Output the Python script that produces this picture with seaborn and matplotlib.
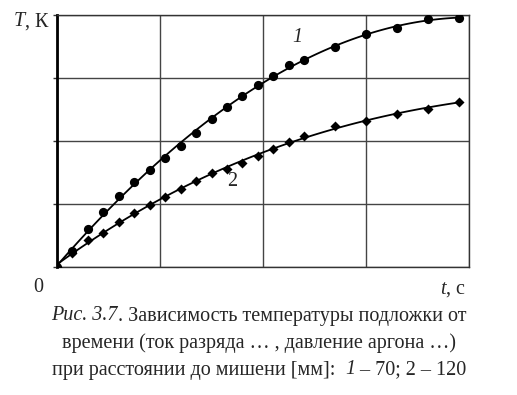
import numpy as np
import pandas as pd
import matplotlib
matplotlib.use("Agg")
import matplotlib.pyplot as plt
import seaborn as sns

# ---- data (axis units: 1 grid cell = 1) ----
t_vals = [0, 0.15, 0.3, 0.45, 0.6, 0.75, 0.9, 1.05, 1.2, 1.35, 1.5, 1.65,
          1.8, 1.95, 2.1, 2.25, 2.4, 2.7, 3.0, 3.3, 3.6, 3.9]
T_curve1 = [0, 0.25, 0.60, 0.87, 1.13, 1.35, 1.54, 1.73, 1.92, 2.13, 2.35, 2.54,
            2.71, 2.89, 3.03, 3.21, 3.29, 3.49, 3.70, 3.79, 3.94, 3.95]
T_curve2 = [0, 0.22, 0.43, 0.54, 0.71, 0.86, 0.98, 1.11, 1.24, 1.37, 1.49, 1.56,
            1.65, 1.76, 1.87, 1.98, 2.08, 2.24, 2.32, 2.43, 2.51, 2.62]
x_grid = [0, 1, 2, 3, 4]
y_grid = [0, 1, 2, 3, 4]

df1 = pd.DataFrame({"t": t_vals, "T": T_curve1})
df2 = pd.DataFrame({"t": t_vals, "T": T_curve2})

sns.set_style("white")
plt.rcParams["font.family"] = ["Liberation Serif", "DejaVu Serif"]

W, H = 517, 395
fig = plt.figure(figsize=(W / 100, H / 100), dpi=100)
ax = fig.add_axes([57 / W, 1 - 267 / H, (469 - 57) / W, (267 - 15) / H])

# fitted smooth curves
sns.regplot(data=df1, x="t", y="T", order=3, ci=None, scatter=False,
            line_kws={"color": "black", "lw": 1.3}, ax=ax)
sns.regplot(data=df2, x="t", y="T", order=3, ci=None, scatter=False,
            line_kws={"color": "black", "lw": 1.3}, ax=ax)
# markers
sns.scatterplot(data=df1, x="t", y="T", marker="o", s=44, color="black",
                edgecolor="black", linewidth=0, ax=ax, zorder=5)
sns.scatterplot(data=df2, x="t", y="T", marker="D", s=26, color="black",
                edgecolor="black", linewidth=0, ax=ax, zorder=5)

ax.set_xlim(0, 4)
ax.set_ylim(0, 4)
ax.set_xticks(x_grid)
ax.set_yticks(y_grid)
ax.set_xticklabels([])
ax.set_yticklabels([])
ax.tick_params(axis="y", length=3, width=1, color="#333333", direction="out", left=True)
ax.tick_params(axis="x", length=0)
ax.grid(True, color="#444444", lw=1.0)
ax.set_axisbelow(True)
ax.set_xlabel("")
ax.set_ylabel("")
for side in ["top", "right", "bottom"]:
    ax.spines[side].set_color("#333333")
    ax.spines[side].set_linewidth(1.0)
ax.spines["left"].set_color("black")
ax.spines["left"].set_linewidth(2.0)

fs = 14.5


def fx(px):
    return px / W


def fy(py):
    return 1 - py / H


# curve labels
fig.text(fx(297), fy(38), "1", style="italic", fontsize=fs, ha="center", va="center")
fig.text(fx(232), fy(181), "2", fontsize=fs, ha="center", va="center")

renderer = fig.canvas.get_renderer()


def rich(x_anchor, y, parts, ha="center"):
    objs = []
    for txt, st in parts:
        objs.append(fig.text(0, fy(y), txt, style=st, fontsize=fs, va="center", ha="left"))
    widths = [o.get_window_extent(renderer).width for o in objs]
    total = sum(widths)
    x0 = x_anchor - total / 2 if ha == "center" else x_anchor
    cur = x0
    for o, w in zip(objs, widths):
        o.set_x(fx(cur))
        cur += w


# axis labels
rich(14, 22, [("T", "italic"), (", К", "normal")], ha="left")
rich(440, 289, [("t", "italic"), (", с", "normal")], ha="left")
fig.text(fx(38), fy(288), "0", fontsize=fs, ha="center", va="center")

# caption
rich(259, 316, [("Рис. 3.7", "italic"), (". Зависимость температуры подложки от", "normal")])
rich(259, 343, [("времени (ток разряда … , давление аргона …)", "normal")])
rich(259, 370, [("при расстоянии до мишени [мм]:  ", "normal"), ("1", "italic"),
                (" – 70; 2 – 120", "normal")])

fig.savefig("out.png", dpi=100)
